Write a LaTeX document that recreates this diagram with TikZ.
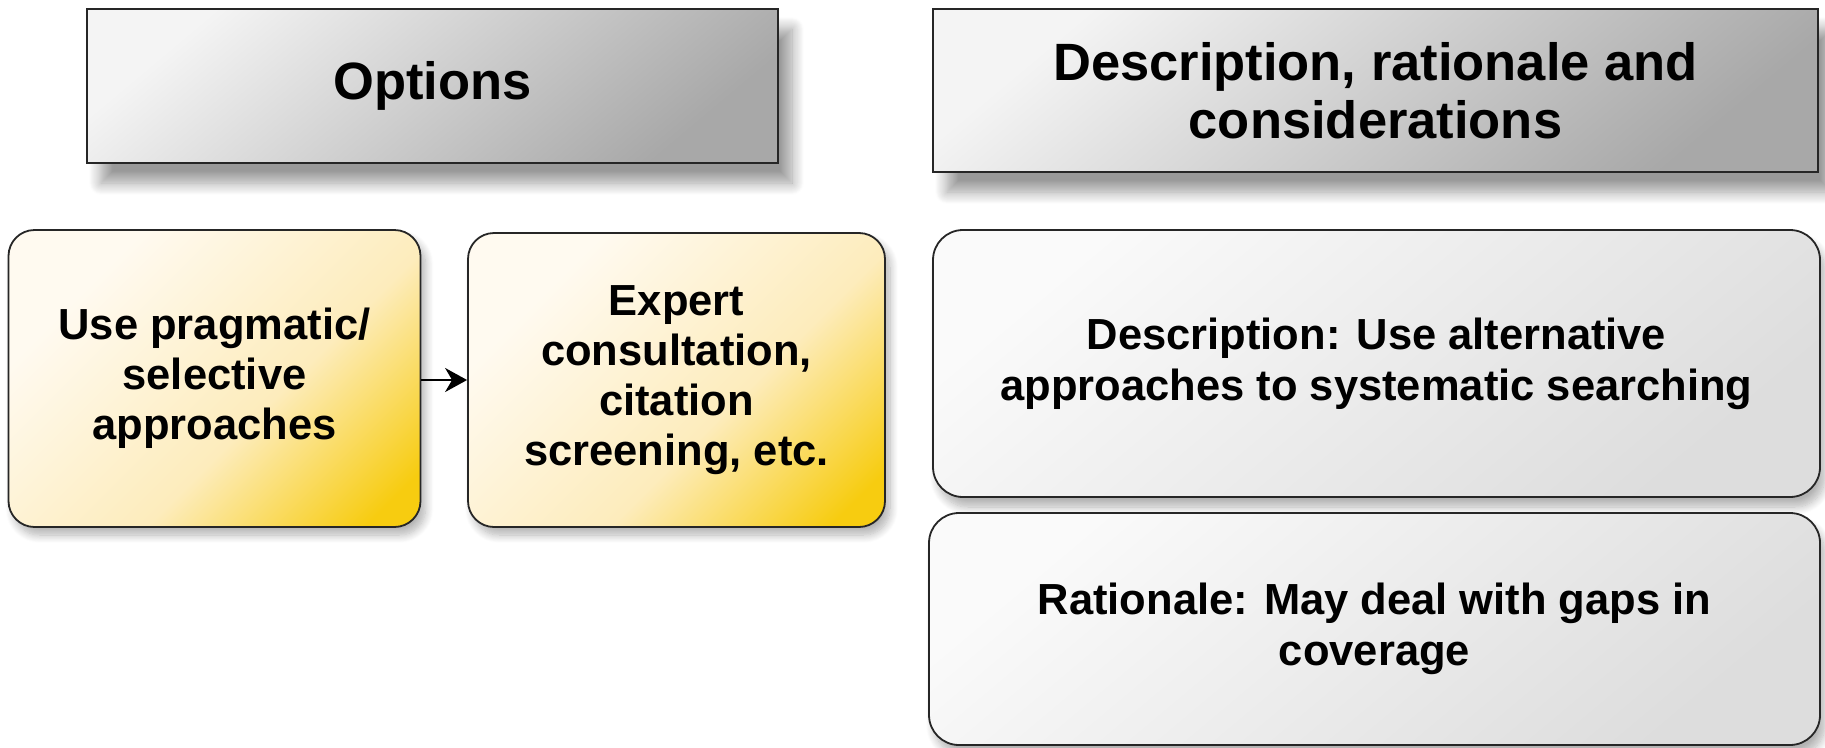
\documentclass[tikz,border=0pt]{standalone}
\usepackage{fontspec}
\setmainfont{Liberation Sans}
\usetikzlibrary{shadows.blur,arrows.meta}
\definecolor{hdrlight}{HTML}{F4F4F4}
\definecolor{hdrdark}{HTML}{A8A8A8}
\definecolor{ylight}{HTML}{FFFAF0}
\definecolor{ymid}{HTML}{FDECBC}
\definecolor{ydark}{HTML}{F7CC10}
\definecolor{glight}{HTML}{FAFAFA}
\definecolor{gdark}{HTML}{DDDDDD}
\definecolor{edge}{HTML}{262626}
\pgfdeclareverticalshading{yshade}{100bp}{color(0bp)=(ydark); color(20bp)=(ydark); color(42bp)=(ymid); color(72bp)=(ylight); color(100bp)=(ylight)}
\tikzset{
  hdrbox/.style={draw=edge, line width=2.2pt, rectangle, align=center,
    top color=hdrlight, bottom color=hdrdark, shading angle=40,
    font=\bfseries\fontsize{52.5}{58}\selectfont,
    blur shadow={shadow xshift=14pt, shadow yshift=-20pt, shadow blur radius=12pt, shadow blur steps=12, shadow opacity=40}},
  ybox/.style={draw=edge, line width=1.8pt, rectangle, rounded corners=26pt, align=center,
    shading=yshade, shading angle=45,
    font=\bfseries\fontsize{43.5}{50}\selectfont,
    blur shadow={shadow xshift=5pt, shadow yshift=-8pt, shadow blur radius=8pt, shadow blur steps=10, shadow opacity=30}},
  gbox/.style={draw=edge, line width=1.8pt, rectangle, rounded corners=30pt, align=center,
    top color=glight, bottom color=gdark, shading angle=40,
    font=\bfseries\fontsize{43.5}{51}\selectfont,
    blur shadow={shadow xshift=5pt, shadow yshift=-10pt, shadow blur radius=8pt, shadow blur steps=10, shadow opacity=30}},
  conn/.style={draw=black, line width=2.4pt, -{Stealth[length=22pt,width=24pt,inset=7pt]}}
}
\begin{document}
\begin{tikzpicture}[x=1pt,y=-1pt]
\useasboundingbox (0,0) rectangle (1825,747);
\node[hdrbox, minimum width=691pt, minimum height=154pt] (opt) at (432.5,86) {Options};
\node[hdrbox, minimum width=885pt, minimum height=163pt] (desc) at (1375.5,90.5) {Description, rationale and\\considerations};
\node[ybox, minimum width=412pt, minimum height=297pt] (y1) at (214.5,378.5) {Use pragmatic/\\selective\\approaches};
\node[ybox, minimum width=417pt, minimum height=294pt] (y2) at (676.5,380) {Expert\\consultation,\\citation\\screening, etc.};
\node[gbox, minimum width=887pt, minimum height=267pt] (g1) at (1376.5,363.5) {Description: Use alternative\\approaches to systematic searching};
\node[gbox, minimum width=891pt, minimum height=232pt] (g2) at (1374.5,629) {Rationale: May deal with gaps in\\coverage};
\draw[conn] (y1.east |- 0,380) -- (y2.west |- 0,380);
\end{tikzpicture}
\end{document}
